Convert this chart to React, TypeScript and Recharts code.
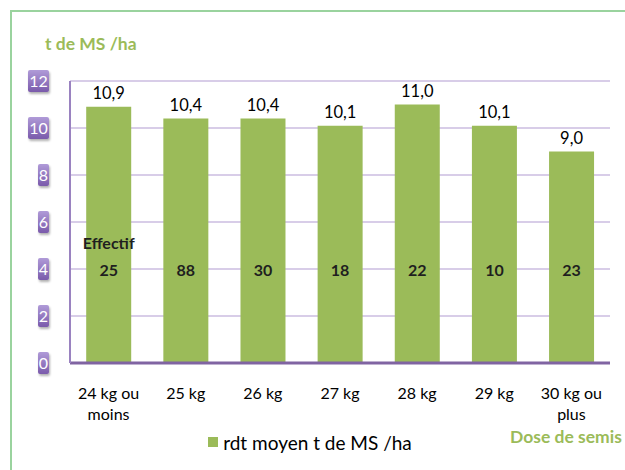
import React from 'react'
import { Bar, BarChart, CartesianGrid, LabelList, Legend, XAxis, YAxis } from 'recharts'

const doses = ['24 kg ou|moins', '25 kg', '26 kg', '27 kg', '28 kg', '29 kg', '30 kg ou|plus']
const rdt = [10.9, 10.4, 10.4, 10.1, 11.0, 10.1, 9.0]
const effectif = [25, 88, 30, 18, 22, 10, 23]
const yTicks = [0, 2, 4, 6, 8, 10, 12]

const FONT = 'Lato, "Open Sans", sans-serif'
const GREEN = '#9bbb59'
const PURPLE = '#8064a2'

const data = doses.map((d, i) => ({ dose: d, rdt: rdt[i], effectif: effectif[i] }))

const YTick = (props: any) => {
  const { x, y, payload } = props
  const label = String(payload.value)
  const w = label.length > 1 ? 21 : 11
  return (
    <g>
      <rect x={x - w + 1} y={y - 11} width={w} height={22} rx={2} fill="url(#tickGrad)" filter="url(#tickShadow)" />
      <text x={x - w / 2 + 1} y={y + 6} textAnchor="middle" fill="#fff" fontSize={16} fontFamily={FONT}>
        {label}
      </text>
    </g>
  )
}

const XTick = (props: any) => {
  const { x, y, payload } = props
  const lines = String(payload.value).split('|')
  return (
    <text x={x} y={y + 28} textAnchor="middle" fill="#000" fontSize={16} fontFamily={FONT}>
      {lines.map((l, i) => (
        <tspan key={i} x={x} dy={i === 0 ? 0 : 21}>{l}</tspan>
      ))}
    </text>
  )
}

const EffLabel = (props: any) => {
  const { x, y, width, height, value, index } = props
  const cx = x + width / 2
  const base = y + height - 87
  return (
    <g>
      {index === 0 && (
        <text x={cx} y={base - 27} textAnchor="middle" fill="#1f1f1f" fontSize={16} fontWeight="bold" fontFamily={FONT}>
          Effectif
        </text>
      )}
      <text x={cx} y={base} textAnchor="middle" fill="#1f1f1f" fontSize={16} fontWeight="bold" fontFamily={FONT}>
        {value}
      </text>
    </g>
  )
}

const LegendBox = () => (
  <div style={{ display: 'flex', justifyContent: 'center', alignItems: 'center', fontFamily: FONT, fontSize: 19, color: '#000', height: 22 }}>
    <span style={{ width: 10, height: 10, background: GREEN, display: 'inline-block', marginRight: 5 }} />
    rdt moyen t de MS /ha
  </div>
)

const App = () => {
  return (
    <div style={{ position: 'absolute', left: 0, top: 0, width: 625, height: 470, background: '#fff' }}>
      <div style={{ position: 'absolute', left: 10, top: 10, width: 615, height: 460, borderTop: '2px solid #9ad39e', borderLeft: '2px solid #9ad39e' }} />
      <div style={{ position: 'absolute', left: 45, top: 33, fontFamily: FONT, fontWeight: 'bold', fontSize: 17.5, color: GREEN }}>
        t de MS /ha
      </div>
      <div style={{ position: 'absolute', left: 510, top: 426, fontFamily: FONT, fontWeight: 'bold', fontSize: 17.5, color: GREEN }}>
        Dose de semis
      </div>
      <BarChart width={625} height={470} data={data} margin={{ top: 81, right: 15, bottom: 17, left: 10 }} barCategoryGap="21%">
        <defs>
          <linearGradient id="tickGrad" x1="0" y1="0" x2="0" y2="1">
            <stop offset="0%" stopColor="#b09bd8" />
            <stop offset="100%" stopColor="#7a5aab" />
          </linearGradient>
          <filter id="tickShadow" x="-30%" y="-30%" width="160%" height="160%">
            <feDropShadow dx="1" dy="2" stdDeviation="1" floodColor="#000" floodOpacity="0.3" />
          </filter>
        </defs>
        <CartesianGrid vertical={false} stroke="#cbbde0" strokeWidth={1.5} />
        <XAxis dataKey="dose" interval={0} tick={<XTick />} tickLine={false} axisLine={{ stroke: PURPLE, strokeWidth: 3 }} height={68} />
        <YAxis domain={[0, 12]} ticks={yTicks} tick={<YTick />} tickLine={false} width={60} tickMargin={16} axisLine={{ stroke: '#9a82c0', strokeWidth: 2 }} />
        <Legend verticalAlign="bottom" height={22} content={<LegendBox />} />
        <Bar dataKey="rdt" fill={GREEN} isAnimationActive={false}>
          <LabelList dataKey="rdt" position="top" offset={8} fill="#000" fontSize={16.5} fontFamily={FONT} formatter={(v: any) => Number(v).toFixed(1).replace('.', ',')} />
          <LabelList dataKey="effectif" content={<EffLabel />} />
        </Bar>
      </BarChart>
    </div>
  )
}

export default App
